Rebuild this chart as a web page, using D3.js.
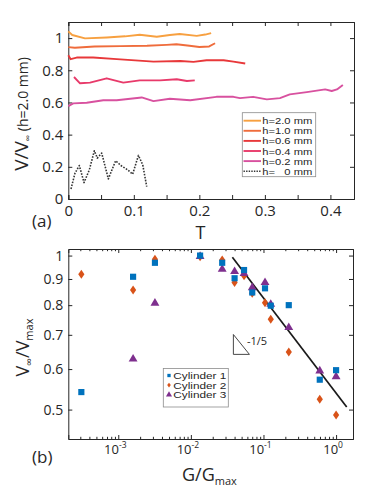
<!DOCTYPE html>
<html>
<head>
<meta charset="utf-8">
<script src="https://cdn.jsdelivr.net/npm/d3@7"></script>
<style>
  body { margin: 0; background: #fff; }
  svg { font-family: "Open Sans", sans-serif; }
  .axis path.domain { stroke: #262626; }
  .axis line { stroke: #262626; }
  .axis text { fill: #262626; }
  .leg { font-family: "Liberation Sans", Arial, sans-serif; }
</style>
</head>
<body>
<div class="chart"></div>
<script>
// ---------- panel (a) data: [T, V/Vinf] ----------
const h20 = [[0,1.042],[0.006,1.019],[0.0255,0.998],[0.0586,1.004],[0.0866,1.011],[0.109,1.021],[0.135,1.008],[0.155,1.019],[0.170,1.025],[0.196,1.014],[0.209,1.022],[0.218,1.031]];
const h10 = [[0,0.944],[0.01,0.94],[0.04,0.948],[0.08,0.95],[0.12,0.952],[0.15,0.958],[0.165,0.962],[0.185,0.952],[0.2,0.945],[0.215,0.948],[0.224,0.968]];
const h06 = [[0,0.894],[0.0036,0.869],[0.0128,0.879],[0.038,0.879],[0.074,0.869],[0.130,0.854],[0.171,0.858],[0.191,0.852],[0.211,0.8625],[0.237,0.8625],[0.252,0.854],[0.270,0.842]];
const h04 = [[0.0087,0.758],[0.0179,0.719],[0.0331,0.723],[0.0586,0.75],[0.0839,0.723],[0.109,0.7375],[0.140,0.7375],[0.1655,0.744],[0.181,0.733],[0.193,0.7375]];
const h02 = [[0,0.577],[0.0076,0.594],[0.0281,0.598],[0.0534,0.614],[0.0738,0.614],[0.112,0.631],[0.130,0.608],[0.155,0.623],[0.186,0.614],[0.226,0.635],[0.252,0.635],[0.262,0.627],[0.282,0.635],[0.303,0.619],[0.323,0.627],[0.338,0.65],[0.364,0.664],[0.392,0.681],[0.402,0.671],[0.41,0.681],[0.419,0.708]];
const h00 = [[0.0041,0.0625],[0.0102,0.16],[0.0168,0.208],[0.024,0.102],[0.0321,0.181],[0.0397,0.30],[0.0443,0.254],[0.051,0.285],[0.0611,0.125],[0.0722,0.2375],[0.0803,0.208],[0.0906,0.181],[0.0982,0.154],[0.107,0.271],[0.1136,0.2125],[0.1197,0.077]];
const seriesA = [h20, h10, h06, h04, h02, h00];
const labelsA = ["h=2.0 mm", "h=1.0 mm", "h=0.6 mm", "h=0.4 mm", "h=0.2 mm", "h=   0 mm"];
const colorsA = ["#f7a040", "#ef6c3c", "#e8383a", "#e83a6a", "#d8519f", "#333333"];
const xTicksA = [0, 0.05, 0.1, 0.15, 0.2, 0.25, 0.3, 0.35, 0.4];
const yTicksA = [0, 0.2, 0.4, 0.6, 0.8, 1];

// ---------- panel (b) data: [G/Gmax, Vinf/Vmax] ----------
const cyl1 = [[3.1e-4,0.541],[1.6e-3,0.909],[3.2e-3,0.968],[0.0134,1.0],[0.027,0.968],[0.040,0.903],[0.054,0.937],[0.070,0.847],[0.105,0.863],[0.126,0.798],[0.223,0.800],[0.596,0.572],[1.0,0.597]];
const cyl2 = [[3.1e-4,0.919],[1.6e-3,0.856],[3.2e-3,0.984],[0.0134,0.995],[0.027,0.98],[0.040,0.886],[0.054,0.913],[0.070,0.844],[0.105,0.809],[0.126,0.751],[0.223,0.648],[0.596,0.524],[1.0,0.488]];
const cyl3 = [[1.6e-3,0.630],[3.2e-3,0.810],[0.0134,1.0],[0.027,0.944],[0.040,0.934],[0.054,0.926],[0.070,0.869],[0.105,0.889],[0.126,0.806],[0.223,0.726],[0.596,0.597],[1.0,0.582]];
const fitLine = [[0.0373,0.992],[1.40,0.506]];
const slopeTri = [[0.0385,0.701],[0.0385,0.641],[0.064,0.641]];
const labelsB = ["Cylinder 1", "Cylinder 2", "Cylinder 3"];
const colorsB = ["#0072bd", "#d95319", "#7e2f8e"];
const xMajorB = [-3, -2, -1, 0];
const yTicksB = [0.5, 0.6, 0.7, 0.8, 0.9, 1];

const totalWidth = 374, totalHeight = 498;
const svg = d3.select(".chart").append("svg")
  .attr("width", totalWidth)
  .attr("height", totalHeight);

// ================= panel (a) =================
const boxA = { left: 68.3, right: 354, top: 22, bottom: 199 };
const xA = d3.scaleLinear().domain([0, 0.436]).range([boxA.left, boxA.right]);
const yA = d3.scaleLinear().domain([0, 1.1]).range([boxA.bottom, boxA.top]);

function boxAxes(g, xs, ys, box, xv, yv, xfmt, yfmt, xFont, yFont) {
  g.append("g").attr("class", "axis")
    .attr("transform", `translate(0,${box.bottom})`)
    .call(d3.axisBottom(xs).tickValues(xv).tickSize(-4).tickPadding(6).tickFormat(xfmt))
    .attr("font-size", xFont).attr("font-family", null);
  g.append("g").attr("class", "axis")
    .attr("transform", `translate(0,${box.top})`)
    .call(d3.axisTop(xs).tickValues(xv).tickSize(-4).tickFormat(""));
  g.append("g").attr("class", "axis")
    .attr("transform", `translate(${box.left},0)`)
    .call(d3.axisLeft(ys).tickValues(yv).tickSize(-4).tickPadding(5).tickFormat(yfmt))
    .attr("font-size", yFont).attr("font-family", null);
  g.append("g").attr("class", "axis")
    .attr("transform", `translate(${box.right},0)`)
    .call(d3.axisRight(ys).tickValues(yv).tickSize(-4).tickFormat(""));
}

const gA = svg.append("g");
boxAxes(gA, xA, yA, boxA, xTicksA, yTicksA,
  (d) => (Math.round(d * 100) % 10 === 0 ? d3.format("")(d) : ""),
  d3.format(""), 15, 15);

const lineA = d3.line().x((d) => xA(d[0])).y((d) => yA(d[1]));
gA.selectAll("path.series")
  .data(seriesA)
  .enter()
  .append("path")
  .attr("class", "series")
  .attr("fill", "none")
  .attr("stroke", (d, i) => colorsA[i])
  .attr("stroke-width", (d, i) => (i === 5 ? 1.6 : 1.9))
  .attr("stroke-dasharray", (d, i) => (i === 5 ? "1.6,1.4" : null))
  .attr("stroke-linejoin", "round")
  .attr("d", lineA);

// legend (a)
const legA = gA.append("g").attr("class", "leg");
legA.append("rect")
  .attr("x", 242.3).attr("y", 112.7)
  .attr("width", 73.4).attr("height", 64)
  .attr("fill", "#fff").attr("stroke", "#8c8c8c").attr("stroke-width", 0.8);
labelsA.forEach((t, i) => {
  const y = 120.7 + i * 10.1;
  legA.append("line")
    .attr("x1", 243.5).attr("x2", 261).attr("y1", y).attr("y2", y)
    .attr("stroke", colorsA[i])
    .attr("stroke-width", i === 5 ? 1.4 : 1.9)
    .attr("stroke-dasharray", i === 5 ? "1.4,1.2" : null);
  legA.append("text")
    .attr("x", 262.3).attr("y", y + 3.5)
    .attr("font-size", 8.7).attr("fill", "#262626")
    .attr("textLength", 50).attr("lengthAdjust", "spacingAndGlyphs")
    .style("white-space", "pre")
    .text(t);
});

// labels (a)
gA.append("text").attr("x", 200.5).attr("y", 239)
  .attr("text-anchor", "middle").attr("font-size", 18).attr("fill", "#262626").text("T");
gA.append("text").attr("x", 32).attr("y", 227)
  .attr("font-size", 17).attr("fill", "#262626").text("(a)");
const yLabA = gA.append("text")
  .attr("transform", "translate(28,114) rotate(-90)")
  .attr("text-anchor", "middle").attr("fill", "#262626").attr("font-size", 19);
yLabA.append("tspan").text("V/V");
yLabA.append("tspan").attr("font-size", 9).attr("dy", 3).text("\u221E");
yLabA.append("tspan").attr("font-size", 14).attr("dy", -3).text(" (h=2.0 mm)");

// ================= panel (b) =================
const boxB = { left: 68.3, right: 353, top: 249, bottom: 439 };
const xB = d3.scaleLog().domain([2.05e-4, 1.71]).range([boxB.left, boxB.right]);
const yB = d3.scaleLog().domain([0.438, 1.03]).range([boxB.bottom, boxB.top]);

const gB = svg.append("g");
const majorVals = xMajorB.map((e) => Math.pow(10, e));
boxAxes(gB, xB, yB, boxB, majorVals, yTicksB, () => "", d3.format(""), 13, 14);

// minor log ticks
const minorVals = [];
for (let e = -4; e <= 0; e++) {
  for (let k = 2; k <= 9; k++) {
    const v = k * Math.pow(10, e);
    if (v > xB.domain()[0] && v < xB.domain()[1]) minorVals.push(v);
  }
}
gB.append("g").attr("class", "axis")
  .attr("transform", `translate(0,${boxB.bottom})`)
  .call(d3.axisBottom(xB).tickValues(minorVals).tickSize(-2.2).tickFormat(""))
  .select(".domain").remove();
gB.append("g").attr("class", "axis")
  .attr("transform", `translate(0,${boxB.top})`)
  .call(d3.axisTop(xB).tickValues(minorVals).tickSize(-2.2).tickFormat(""))
  .select(".domain").remove();

// decade labels 10^n
xMajorB.forEach((e) => {
  const t = gB.append("text")
    .attr("x", xB(Math.pow(10, e)) - 3)
    .attr("y", 454)
    .attr("text-anchor", "middle")
    .attr("font-size", 13).attr("fill", "#262626");
  t.append("tspan").text("10");
  t.append("tspan").attr("font-size", 8.5).attr("dy", -6).text(String(e));
});

// fit line and slope triangle
const lineB = d3.line().x((d) => xB(d[0])).y((d) => yB(d[1]));
gB.append("path").datum(fitLine)
  .attr("fill", "none").attr("stroke", "#1a1a1a").attr("stroke-width", 1.7)
  .attr("d", lineB);
gB.append("path").datum(slopeTri.concat([slopeTri[0]]))
  .attr("fill", "none").attr("stroke", "#333").attr("stroke-width", 0.9)
  .attr("d", lineB);
gB.append("text")
  .attr("x", xB(slopeTri[2][0]) - 2.5)
  .attr("y", yB(slopeTri[0][1]) + 10.5)
  .attr("font-size", 11).attr("fill", "#262626").text("-1/5");

// markers
function diamondPath(w, h) {
  return `M0,${-h}L${w},0L0,${h}L${-w},0Z`;
}
const sq = d3.symbol().type(d3.symbolSquare).size(38);
const tri = d3.symbol().type(d3.symbolTriangle).size(34);

gB.append("g").selectAll("path")
  .data(cyl2).enter().append("path")
  .attr("transform", (d) => `translate(${xB(d[0])},${yB(d[1])})`)
  .attr("d", diamondPath(3.1, 4.5))
  .attr("fill", colorsB[1]);
gB.append("g").selectAll("path")
  .data(cyl3).enter().append("path")
  .attr("transform", (d) => `translate(${xB(d[0])},${yB(d[1]) + 0.8})`)
  .attr("d", tri)
  .attr("fill", colorsB[2]);
gB.append("g").selectAll("path")
  .data(cyl1).enter().append("path")
  .attr("transform", (d) => `translate(${xB(d[0])},${yB(d[1])})`)
  .attr("d", sq)
  .attr("fill", colorsB[0]);

// legend (b)
const legB = gB.append("g").attr("class", "leg");
legB.append("rect")
  .attr("x", 163.3).attr("y", 368.5)
  .attr("width", 65).attr("height", 38.5)
  .attr("fill", "#fff").attr("stroke", "#8c8c8c").attr("stroke-width", 0.8);
const legMarks = [
  d3.symbol().type(d3.symbolSquare).size(11)(),
  diamondPath(1.8, 2.3),
  d3.symbol().type(d3.symbolTriangle).size(16)()
];
labelsB.forEach((t, i) => {
  const y = 375.5 + i * 9.6;
  legB.append("path")
    .attr("transform", `translate(169,${y})`)
    .attr("d", legMarks[i]).attr("fill", colorsB[i]);
  legB.append("text")
    .attr("x", 173.3).attr("y", y + 3.4)
    .attr("font-size", 8.3).attr("fill", "#262626")
    .attr("textLength", 53).attr("lengthAdjust", "spacingAndGlyphs")
    .text(t);
});

// labels (b)
gB.append("text").attr("x", 32).attr("y", 463)
  .attr("font-size", 17).attr("fill", "#262626").text("(b)");
const xLabB = gB.append("text").attr("x", 182).attr("y", 481)
  .attr("fill", "#262626").attr("font-size", 18);
xLabB.append("tspan").text("G/G");
xLabB.append("tspan").attr("font-size", 11).attr("dy", 4).text("max");

const yLabB = gB.append("text")
  .attr("transform", "translate(29,347.5) rotate(-90)")
  .attr("text-anchor", "middle").attr("fill", "#262626").attr("font-size", 18);
yLabB.append("tspan").text("V");
yLabB.append("tspan").attr("font-size", 11).attr("dy", 4).text("\u221E");
yLabB.append("tspan").attr("dy", -4).text("/V");
yLabB.append("tspan").attr("font-size", 11).attr("dy", 4).text("max");
</script>
</body>
</html>
